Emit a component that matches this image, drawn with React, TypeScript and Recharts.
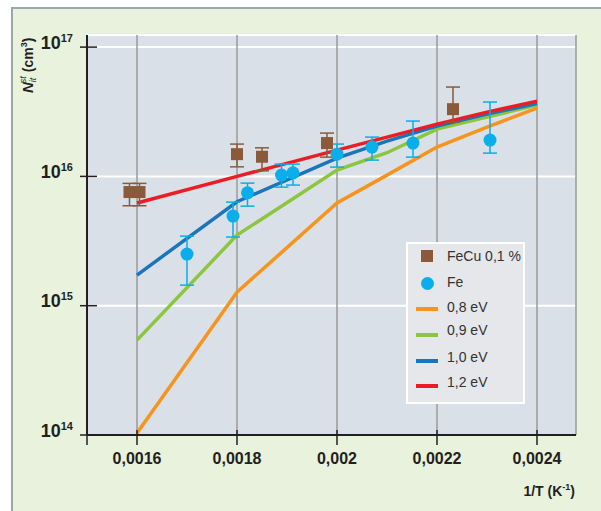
import React from 'react';
import { ComposedChart, Line, Scatter, XAxis, YAxis, CartesianGrid, ErrorBar, Legend } from 'recharts';

const FONT = '"Liberation Sans", Arial, Helvetica, sans-serif';
const INK = '#231f20';

// Axis ticks
const X_DOMAIN = [0.0015, 0.002478];
const X_TICKS = [0.0016, 0.0018, 0.002, 0.0022, 0.0024];
const X_TICK_LABELS = ['0,0016', '0,0018', '0,002', '0,0022', '0,0024'];
const Y_DOMAIN = [14, 17.0936]; // log10 of N (cm^-3)
const Y_TICKS = [14, 15, 16, 17];
const Y_TICK_EXP = ['14', '15', '16', '17'];

// Model curves (log10 values) at these 1/T values
const MODEL_X = [0.0016, 0.0018, 0.002, 0.0021, 0.0022, 0.0023, 0.0024];
const E08 = [14.015, 15.105, 15.794, 16.01, 16.227, 16.381, 16.528];
const E09 = [14.734, 15.546, 16.049, 16.183, 16.366, 16.459, 16.551];
const E10 = [15.237, 15.804, 16.142, 16.273, 16.389, 16.482, 16.563];
const E12 = [15.794, 16.0, 16.203, 16.304, 16.404, 16.497, 16.582];

// FeCu 0,1 % measurements
const FECU_X = [0.001585, 0.001605, 0.0018, 0.00185, 0.00198, 0.002232];
const FECU_Y = [15.879, 15.879, 16.172, 16.152, 16.258, 16.52];
const FECU_HI = [15.946, 15.946, 16.25, 16.221, 16.335, 16.691];
const FECU_LO = [15.773, 15.773, 16.074, 16.043, 16.149, 16.42];

// Fe measurements
const FE_X = [0.0017, 0.001792, 0.001821, 0.001889, 0.001912, 0.002, 0.00207, 0.002152, 0.002306];
const FE_Y = [15.399, 15.693, 15.873, 16.01, 16.028, 16.172, 16.227, 16.258, 16.281];
const FE_HI = [15.538, 15.801, 15.948, 16.095, 16.095, 16.25, 16.304, 16.428, 16.575];
const FE_LO = [15.159, 15.531, 15.77, 15.917, 15.933, 16.072, 16.126, 16.149, 16.18];

const SERIES_NAMES = ['FeCu 0,1 %', 'Fe', '0,8 eV', '0,9 eV', '1,0 eV', '1,2 eV'];
const COLORS = {
  fecu: '#8a5a3a',
  fe: '#0aaeea',
  e08: '#f7941d',
  e09: '#8cc63f',
  e10: '#1b75bb',
  e12: '#ed1c24',
};

const lineData = (ys: number[]) => MODEL_X.map((x, i) => ({ x, y: ys[i] }));
const pointData = (xs: number[], ys: number[], his: number[], los: number[]) =>
  xs.map((x, i) => ({ x, y: ys[i], err: [ys[i] - los[i], his[i] - ys[i]] }));

const d08 = lineData(E08);
const d09 = lineData(E09);
const d10 = lineData(E10);
const d12 = lineData(E12);
const dFeCu = pointData(FECU_X, FECU_Y, FECU_HI, FECU_LO);
const dFe = pointData(FE_X, FE_Y, FE_HI, FE_LO);

const XTick = (props: any) => {
  const { x, y, payload } = props;
  const idx = X_TICKS.indexOf(payload.value);
  return (
    <g>
      <line x1={x} x2={x} y1={y - 5} y2={y + 10} stroke={INK} strokeWidth={1.5} />
      {idx >= 0 && (
        <text x={x} y={y + 29} textAnchor="middle" fontSize={16} fontWeight="bold" fill={INK} fontFamily={FONT}>
          {X_TICK_LABELS[idx]}
        </text>
      )}
    </g>
  );
};

const YTick = (props: any) => {
  const { x, y, payload } = props;
  const idx = Y_TICKS.indexOf(payload.value);
  return (
    <g>
      <line x1={x - 7} x2={x + 10} y1={y} y2={y} stroke={INK} strokeWidth={1.5} />
      <text x={x - 14} y={y + 1.5} textAnchor="end" fontWeight="bold" fill={INK} fontFamily={FONT}>
        <tspan fontSize={18}>10</tspan>
        <tspan fontSize={11} dy={-7}>{Y_TICK_EXP[idx]}</tspan>
      </text>
    </g>
  );
};

const YLabel = () => (
  <text transform="rotate(-90 33 93)" x={33} y={93} fill={INK} fontFamily={FONT}>
    <tspan fontSize={15} fontWeight="bold" fontStyle="italic">N</tspan>
    <tspan fontSize={9} fontStyle="italic" dy={3}>it</tspan>
    <tspan fontSize={9} fontStyle="italic" dx={-5.5} dy={-10}>st</tspan>
    <tspan fontSize={14} fontWeight="bold" dx={4} dy={7}>(cm</tspan>
    <tspan fontSize={9} fontWeight="bold" dy={-6}>3</tspan>
    <tspan fontSize={14} fontWeight="bold" dy={6}>)</tspan>
  </text>
);

const XLabel = () => (
  <text x={575} y={496} textAnchor="end" fill={INK} fontFamily={FONT} fontWeight="bold" fontSize={14}>
    1/T (K<tspan fontSize={9} dy={-6}>-1</tspan><tspan dy={6}>)</tspan>
  </text>
);

const squareShape = (props: any) => (
  <rect x={props.cx - 6} y={props.cy - 6} width={12} height={12} fill={COLORS.fecu} />
);
const circleShape = (props: any) => <circle cx={props.cx} cy={props.cy} r={6.5} fill={COLORS.fe} />;

const LegendBox = () => {
  const kinds = ['square', 'circle', 'line', 'line', 'line', 'line'];
  const cols = [COLORS.fecu, COLORS.fe, COLORS.e08, COLORS.e09, COLORS.e10, COLORS.e12];
  const centers = [12, 39, 65, 91, 117, 142];
  const textCenters = [12, 37.5, 62.5, 86, 112.5, 137.5];
  return (
    <div
      style={{
        position: 'relative',
        width: 119,
        height: 162,
        boxSizing: 'border-box',
        border: '2px solid #ffffff',
        background: '#e5e7ea',
        fontFamily: FONT,
      }}
    >
      {SERIES_NAMES.map((name, i) => (
        <React.Fragment key={name}>
          {kinds[i] === 'square' && (
            <div style={{ position: 'absolute', left: 13, top: centers[i] - 6, width: 12, height: 12, background: cols[i] }} />
          )}
          {kinds[i] === 'circle' && (
            <div
              style={{ position: 'absolute', left: 12.5, top: centers[i] - 6.5, width: 13, height: 13, borderRadius: '50%', background: cols[i] }}
            />
          )}
          {kinds[i] === 'line' && (
            <div style={{ position: 'absolute', left: 8, top: centers[i] - 2, width: 22, height: 4, background: cols[i] }} />
          )}
          <div
            style={{
              position: 'absolute',
              left: 39,
              top: textCenters[i] - 8,
              height: 16,
              lineHeight: '16px',
              fontSize: 14,
              color: '#333333',
              whiteSpace: 'nowrap',
            }}
          >
            {name}
          </div>
        </React.Fragment>
      ))}
    </div>
  );
};

export default function App() {
  return (
    <div style={{ position: 'absolute', left: 0, top: 0, width: 601, height: 511, fontFamily: FONT, overflow: 'hidden' }}>
      <div
        style={{
          position: 'absolute',
          left: 11,
          top: 7,
          right: 0,
          bottom: 0,
          background: '#e9f2dd',
          borderTop: '2px solid #9ba7ad',
          borderLeft: '2px solid #9ba7ad',
        }}
      />
      <div style={{ position: 'absolute', left: 0, top: 0 }}>
        <ComposedChart width={601} height={511} margin={{ top: 35, right: 25, bottom: 0, left: 0 }}>
          <CartesianGrid fill="#dae0e7" fillOpacity={1} stroke="#ffffff" strokeWidth={2} vertical={false} />
          <CartesianGrid stroke="#9a9a9a" strokeWidth={1.5} horizontal={false} />
          <XAxis
            dataKey="x"
            type="number"
            domain={X_DOMAIN}
            ticks={[X_DOMAIN[0], ...X_TICKS]}
            interval={0}
            allowDataOverflow
            height={76}
            tickSize={0}
            tickMargin={0}
            tickLine={false}
            tick={<XTick />}
            axisLine={{ stroke: INK, strokeWidth: 2 }}
            label={<XLabel />}
          />
          <YAxis
            type="number"
            domain={Y_DOMAIN}
            ticks={Y_TICKS}
            interval={0}
            allowDataOverflow
            width={87}
            tickSize={0}
            tickMargin={0}
            tickLine={false}
            tick={<YTick />}
            axisLine={{ stroke: INK, strokeWidth: 2 }}
            label={<YLabel />}
          />
          <Line data={d08} dataKey="y" name={SERIES_NAMES[2]} stroke={COLORS.e08} strokeWidth={3.5} dot={false} activeDot={false} isAnimationActive={false} />
          <Line data={d09} dataKey="y" name={SERIES_NAMES[3]} stroke={COLORS.e09} strokeWidth={3.5} dot={false} activeDot={false} isAnimationActive={false} />
          <Line data={d10} dataKey="y" name={SERIES_NAMES[4]} stroke={COLORS.e10} strokeWidth={3.5} dot={false} activeDot={false} isAnimationActive={false} />
          <Line data={d12} dataKey="y" name={SERIES_NAMES[5]} stroke={COLORS.e12} strokeWidth={3.5} dot={false} activeDot={false} isAnimationActive={false} />
          <Scatter data={dFeCu} dataKey="y" name={SERIES_NAMES[0]} shape={squareShape} isAnimationActive={false}>
            <ErrorBar dataKey="err" direction="y" width={7} stroke={COLORS.fecu} strokeWidth={1.5} isAnimationActive={false} />
          </Scatter>
          <Scatter data={dFe} dataKey="y" name={SERIES_NAMES[1]} shape={circleShape} isAnimationActive={false}>
            <ErrorBar dataKey="err" direction="y" width={7} stroke={COLORS.fe} strokeWidth={1.5} isAnimationActive={false} />
          </Scatter>
          <Legend
            layout="vertical"
            align="center"
            verticalAlign="middle"
            content={() => <LegendBox />}
            wrapperStyle={{ position: 'absolute', left: 406, top: 242, width: 119, height: 162, margin: 0, padding: 0 }}
          />
        </ComposedChart>
      </div>
    </div>
  );
}
